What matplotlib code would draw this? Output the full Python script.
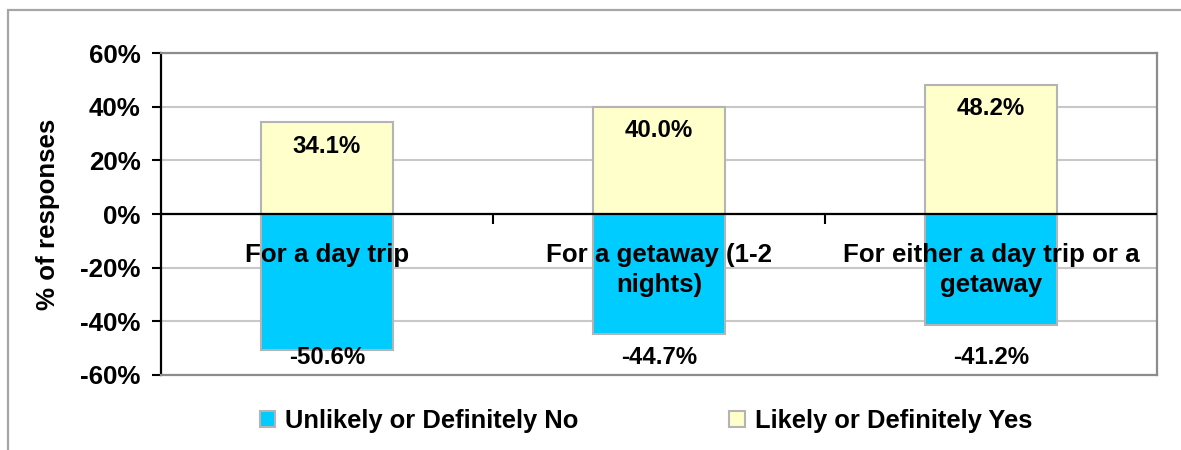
import matplotlib.pyplot as plt
from matplotlib.patches import Patch, Rectangle
from matplotlib.ticker import FuncFormatter

plt.rcParams["font.family"] = ["Liberation Sans", "DejaVu Sans"]
plt.rcParams["font.weight"] = "bold"

categories = ["For a day trip", "For a getaway (1-2\nnights)", "For either a day trip or a\ngetaway"]
unlikely_no = [-50.6, -44.7, -41.2]
likely_yes = [34.1, 40.0, 48.2]
y_ticks = [-60, -40, -20, 0, 20, 40, 60]

BLUE = "#00CCFF"
YELLOW = "#FFFFCC"
EDGE = "#B4B4B4"
FRAME = "#8C8C8C"
FS = 18.6

fig = plt.figure(figsize=(11.81, 4.5), dpi=100)
ax = fig.add_axes([161 / 1181, 1 - 375 / 450, 996 / 1181, 322 / 450])

# outer chart frame (runs off the right and bottom edge)
fig.patches.append(Rectangle((8 / 1181, -0.2), 1.5, 1.2 - 10 / 450,
                             transform=fig.transFigure, fill=False,
                             edgecolor="#A6A6A6", lw=1.6))

x = list(range(len(categories)))
ax.bar(x, unlikely_no, width=0.4, color=BLUE, edgecolor=EDGE, linewidth=1.5, zorder=2)
ax.bar(x, likely_yes, width=0.4, color=YELLOW, edgecolor=EDGE, linewidth=1.5, zorder=2)

ax.set_xlim(-0.5, len(categories) - 0.5)
ax.set_ylim(-60, 60)
ax.set_yticks(y_ticks)
ax.yaxis.set_major_formatter(FuncFormatter(lambda v, _: f"{v:.0f}%"))
ax.tick_params(axis="y", direction="out", length=6.5, width=1.5, pad=8, labelsize=FS)
ax.set_xticks([])
ax.grid(axis="y", color="#C8C8C8", lw=1.5, zorder=0)
ax.set_axisbelow(True)
ax.set_ylabel("% of responses", fontsize=FS, fontweight="bold", labelpad=15)

for side in ["top", "right", "bottom"]:
    ax.spines[side].set_color(FRAME)
    ax.spines[side].set_linewidth(1.6)
ax.spines["left"].set_color("black")
ax.spines["left"].set_linewidth(1.6)

# category axis crossing at 0%, drawn over the bars
ax.axhline(0, color="black", lw=1.6, zorder=3)
zero_axis = ax.secondary_xaxis(0.5)
zero_axis.spines["bottom"].set_visible(False)
zero_axis.spines["top"].set_visible(False)
zero_axis.set_xticks([0.5, 1.5])
zero_axis.set_xticklabels([])
zero_axis.tick_params(direction="in", length=7, width=1.5, color="black")

for i, label in enumerate(categories):
    ax.text(i, -10.8, label, ha="center", va="top", fontsize=FS,
            fontweight="bold", linespacing=1.3, zorder=5)

for i, v in enumerate(likely_yes):
    ax.annotate(f"{v:.1f}%", (i, v), xytext=(0, -17), textcoords="offset points",
                ha="center", va="center", fontsize=17.3, fontweight="bold", zorder=5)
for i, v in enumerate(unlikely_no):
    ax.text(i, -53.5, f"{v:.1f}%", ha="center", va="center",
            fontsize=17.3, fontweight="bold", zorder=5)

handles = [Patch(facecolor=BLUE, edgecolor=EDGE, lw=1.5, label="Unlikely or Definitely No"),
           Patch(facecolor=YELLOW, edgecolor=EDGE, lw=1.5, label="Likely or Definitely Yes")]
fig.legend(handles=handles, loc="center", bbox_to_anchor=(646 / 1181, 1 - 421 / 450),
           ncol=2, frameon=False, fontsize=18.4, handlelength=0.6, handleheight=0.6,
           handletextpad=0.4, columnspacing=5.9)

fig.savefig("out.png", dpi=100)
